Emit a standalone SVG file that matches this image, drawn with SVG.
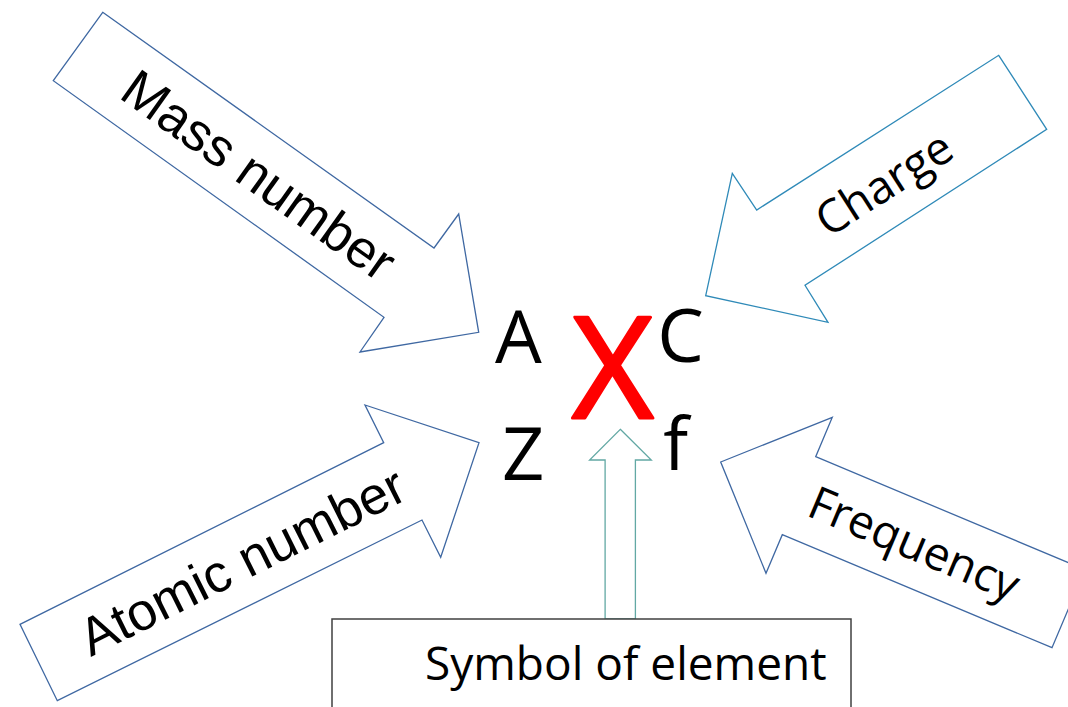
<svg xmlns="http://www.w3.org/2000/svg" width="1068" height="707" viewBox="0 0 1068 707">
<style>
.arr{fill:#ffffff;stroke-width:1.3;stroke-linejoin:miter}
.blue{stroke:#3f68a2}
.teal{stroke:#2f8ab8}
.green{stroke:#62a8a4}
.lbl{font-family:"Liberation Sans",Arial,sans-serif;font-size:53px;fill:#000}
.lbl2{font-family:"Open Sans",sans-serif;font-size:46px;fill:#000}
.sym{font-family:"Open Sans",sans-serif;font-size:74px;fill:#000;text-anchor:middle}
</style>
<rect width="1068" height="707" fill="#ffffff"/>
<g id="connectors">
<g id="mass-arrow">
<polygon class="arr blue" points="102.7,12.3 434,248 458.7,214 478.7,332.3 360,352 384,317.3 53.3,80.7"/>
<text class="lbl" x="259" y="175" text-anchor="middle" dominant-baseline="central" transform="rotate(35.4 259 175)">Mass number</text>
</g>
<g id="charge-arrow">
<polygon class="arr teal" points="998.7,55.3 1046.7,129.3 805,285.3 828,322.3 705.7,295.7 732.3,173.3 756.7,210"/>
<text class="lbl2" x="883" y="182" text-anchor="middle" dominant-baseline="central" transform="rotate(-32.6 883 182)">Charge</text>
</g>
<g id="atomic-arrow">
<polygon class="arr blue" points="365,405 479,442.7 440.7,557.3 422,520 57.3,700.7 20,624.3 383.7,442.7"/>
<text class="lbl" x="242" y="561" text-anchor="middle" dominant-baseline="central" transform="rotate(-26.5 242 561)">Atomic number</text>
</g>
<g id="frequency-arrow">
<polygon class="arr blue" points="832.3,417.3 720.7,462 766,573.3 782.3,534.7 1052,647.7 1085,569.6 815.7,456.7"/>
<text class="lbl2" x="915" y="542" text-anchor="middle" dominant-baseline="central" transform="rotate(22.9 915 542)">Frequency</text>
</g>
<g id="symbol-arrow">
<polygon class="arr green" points="620.3,429.3 651.3,460 635.4,460 635.4,619 605.1,619 605.1,460 589.6,460"/>
</g>
</g>
<g id="notation">
<text class="sym" x="518.3" y="363">A</text>
<text class="sym" x="680.5" y="362">C</text>
<text class="sym" x="523.3" y="480">Z</text>
<text class="sym" x="675.7" y="470">f</text>
<text class="sym" x="612.8" y="418" style="font-size:141px;fill:#ff0000;stroke:#ff0000;stroke-width:3;stroke-linejoin:round">X</text>
</g>
<g id="symbol-box">
<rect x="332" y="619" width="519" height="100" fill="#ffffff" stroke="#404040" stroke-width="1.5"/>
<text class="lbl2" x="425" y="680">Symbol of element</text>
</g>
</svg>
